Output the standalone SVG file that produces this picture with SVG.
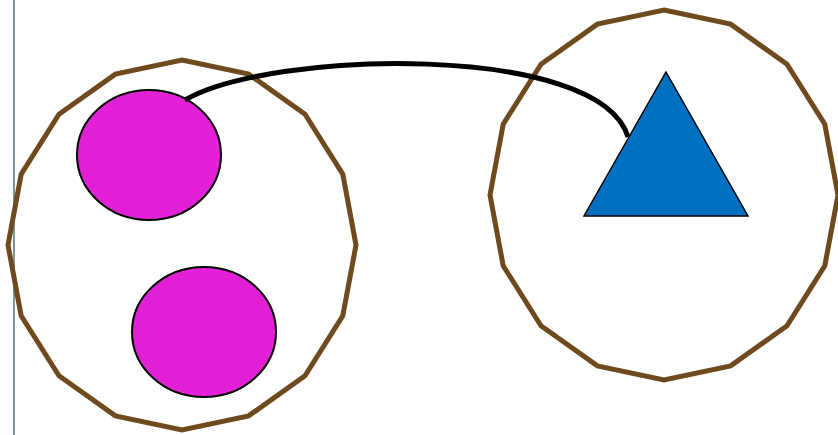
<svg xmlns="http://www.w3.org/2000/svg" width="838" height="435" viewBox="0 0 838 435">
<style>
.poly{fill:none;stroke:#6e4a1e;stroke-width:5;stroke-linejoin:miter}
.blob{fill:#e220d6;stroke:#000;stroke-width:2}
.tri{fill:#0070c0;stroke:#000;stroke-width:1.5}
.link{fill:none;stroke:#000;stroke-width:5}
</style>
<rect width="838" height="435" fill="#fff"/>
<line x1="14" y1="0" x2="14" y2="435" stroke="#7a999c" stroke-width="2"/>
<g id="group-left">
<polygon class="poly" points="182,60 248.6,74.1 305,114.2 342.8,174.2 356,245 342.8,315.8 305,375.8 248.6,415.9 182,430 115.4,415.9 59,375.8 21.2,315.8 8,245 21.2,174.2 59,114.2 115.4,74.1"/>
</g>
<g id="group-right">
<polygon class="poly" points="664,10 730.6,24.1 787,64.2 824.8,124.2 838,195 824.8,265.8 787,325.8 730.6,365.9 664,380 597.4,365.9 541,325.8 503.2,265.8 490,195 503.2,124.2 541,64.2 597.4,24.1"/>
</g>
<g id="circle-top"><ellipse class="blob" cx="149" cy="155" rx="72" ry="65"/></g>
<g id="circle-bottom"><ellipse class="blob" cx="204" cy="332" rx="72" ry="65"/></g>
<g id="connectors">
<path class="link" d="M185,100 C270,50 600,42 628,137"/>
</g>
<g id="triangle"><polygon class="tri" points="666,72 748,216 584,216"/></g>
</svg>
